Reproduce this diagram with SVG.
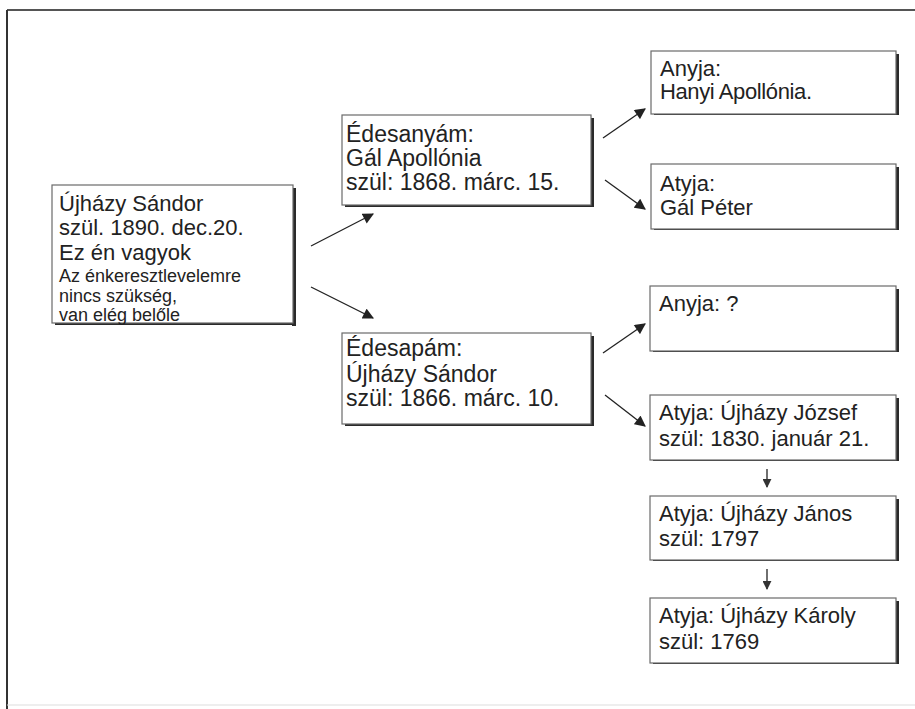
<svg xmlns="http://www.w3.org/2000/svg" width="915" height="709" viewBox="0 0 915 709">
<defs>
<style>
.box{fill:#fff;stroke:#6a6a6a;stroke-width:1.2}
.sh{fill:#2a2a2a}
.t{font-family:"Liberation Sans",Arial,sans-serif;font-size:22px;fill:#222}
.m{font-size:23px}
.s{font-size:18px}
.c{stroke:#222;stroke-width:1.3;fill:none}
</style>
<marker id="ah" viewBox="0 0 10 10" refX="9" refY="5" markerWidth="12" markerHeight="11" markerUnits="userSpaceOnUse" orient="auto">
<path d="M0,0 L10,5 L0,10 z" fill="#222"/>
</marker>
<marker id="ahs" viewBox="0 0 10 10" refX="9" refY="5" markerWidth="9" markerHeight="9" markerUnits="userSpaceOnUse" orient="auto">
<path d="M0,0 L10,5 L0,10 z" fill="#333"/>
</marker>
</defs>
<rect width="915" height="709" fill="#fff"/>
<g id="frame">
<line x1="7" y1="10" x2="915" y2="10" stroke="#555" stroke-width="2"/>
<line x1="7" y1="10" x2="7" y2="709" stroke="#333" stroke-width="2"/>
<line x1="7" y1="705" x2="915" y2="705" stroke="#ddd" stroke-width="1"/>
</g>
<g id="connectors">
<line class="c" x1="311" y1="246" x2="373" y2="214" marker-end="url(#ah)"/>
<line class="c" x1="311" y1="287" x2="373" y2="318" marker-end="url(#ah)"/>
<line class="c" x1="603" y1="138" x2="645" y2="109" marker-end="url(#ah)"/>
<line class="c" x1="605" y1="180" x2="645" y2="209" marker-end="url(#ah)"/>
<line class="c" x1="603" y1="353" x2="645" y2="324" marker-end="url(#ah)"/>
<line class="c" x1="605" y1="395" x2="645" y2="426" marker-end="url(#ah)"/>
<line class="c" x1="767" y1="469" x2="767" y2="487" marker-end="url(#ahs)"/>
<line class="c" x1="767" y1="569" x2="767" y2="589" marker-end="url(#ahs)"/>
</g>
<g id="n-root">
<rect class="sh" x="292" y="188" width="4" height="138"/><rect class="sh" x="55" y="322" width="241" height="3"/>
<rect class="box" x="52" y="185" width="241" height="138"/>
<text class="t" x="59" y="211">Újházy Sándor</text>
<text class="t" x="59" y="235">szül. 1890. dec.20.</text>
<text class="t" x="59" y="260">Ez én vagyok</text>
<text class="t s" x="59" y="282">Az énkeresztlevelemre</text>
<text class="t s" x="59" y="302">nincs szükség,</text>
<text class="t s" x="59" y="321">van elég belőle</text>
</g>
<g id="n-anya">
<rect class="sh" x="590" y="118" width="4" height="89"/><rect class="sh" x="345" y="204" width="249" height="3"/>
<rect class="box" x="342" y="115" width="249" height="90"/>
<text class="t m" x="346" y="142">Édesanyám:</text>
<text class="t m" x="346" y="166">Gál Apollónia</text>
<text class="t m" x="346" y="190">szül: 1868. márc. 15.</text>
</g>
<g id="n-apa">
<rect class="sh" x="590" y="336" width="4" height="90"/><rect class="sh" x="345" y="423" width="249" height="3"/>
<rect class="box" x="342" y="333" width="249" height="91"/>
<text class="t m" x="346" y="356">Édesapám:</text>
<text class="t m" x="346" y="382">Újházy Sándor</text>
<text class="t m" x="346" y="406">szül: 1866. márc. 10.</text>
</g>
<g id="n-hanyi">
<rect class="sh" x="895" y="54" width="4" height="61"/><rect class="sh" x="654" y="113" width="245" height="2"/>
<rect class="box" x="651" y="51" width="245" height="63"/>
<text class="t" x="660" y="76">Anyja:</text>
<text class="t" x="660" y="99" textLength="152">Hanyi Apollónia.</text>
</g>
<g id="n-galpeter">
<rect class="sh" x="895" y="167" width="4" height="63"/><rect class="sh" x="654" y="228" width="245" height="2"/>
<rect class="box" x="651" y="164" width="245" height="65"/>
<text class="t" x="660" y="191">Atyja:</text>
<text class="t" x="660" y="215">Gál Péter</text>
</g>
<g id="n-anyja2">
<rect class="sh" x="895" y="289" width="4" height="63"/><rect class="sh" x="653" y="350" width="246" height="2"/>
<rect class="box" x="650" y="286" width="246" height="65"/>
<text class="t" x="659" y="311">Anyja: ?</text>
</g>
<g id="n-jozsef">
<rect class="sh" x="895" y="398" width="4" height="63"/><rect class="sh" x="653" y="459" width="246" height="2"/>
<rect class="box" x="650" y="395" width="246" height="65"/>
<text class="t" x="659" y="420">Atyja: Újházy József</text>
<text class="t" x="659" y="446">szül: 1830. január 21.</text>
</g>
<g id="n-janos">
<rect class="sh" x="895" y="499" width="4" height="62"/><rect class="sh" x="653" y="559" width="246" height="2"/>
<rect class="box" x="650" y="496" width="246" height="64"/>
<text class="t" x="659" y="521">Atyja: Újházy János</text>
<text class="t" x="659" y="546">szül: 1797</text>
</g>
<g id="n-karoly">
<rect class="sh" x="895" y="601" width="4" height="63"/><rect class="sh" x="653" y="662" width="246" height="2"/>
<rect class="box" x="650" y="598" width="246" height="65"/>
<text class="t" x="659" y="623">Atyja: Újházy Károly</text>
<text class="t" x="659" y="649">szül: 1769</text>
</g>
</svg>
